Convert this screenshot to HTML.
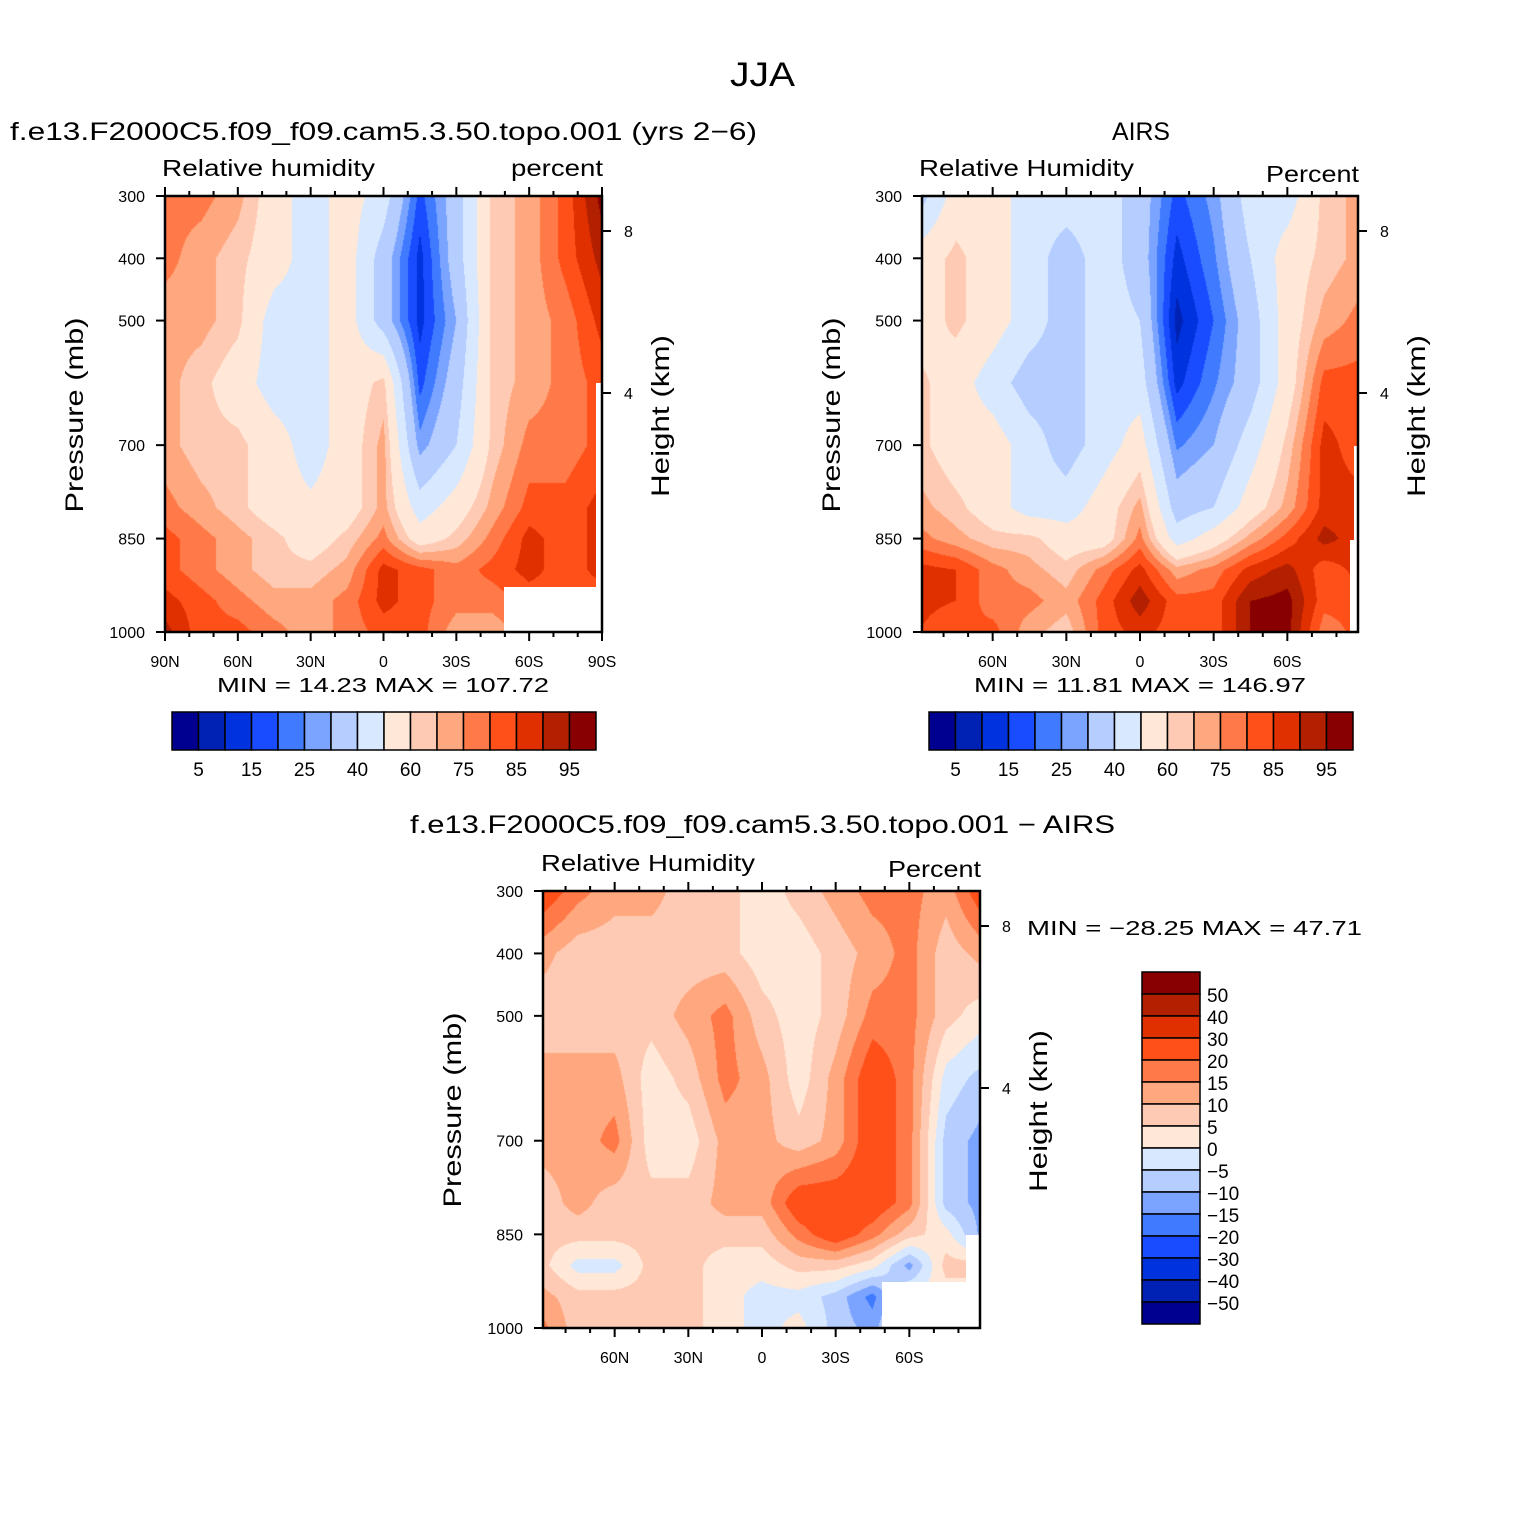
<!DOCTYPE html>
<html><head><meta charset="utf-8">
<style>
body{margin:0;background:#fff;}
#root{position:relative;width:1524px;height:1524px;background:#fff;overflow:hidden;font-family:"Liberation Sans",sans-serif;color:#000;}
svg text{font-family:"Liberation Sans",sans-serif;}
canvas{position:absolute;}
</style></head>
<body>
<div id="root">
<canvas id="c1"></canvas>
<canvas id="c2"></canvas>
<canvas id="c3"></canvas>
<svg id="ov" width="1524" height="1524" style="position:absolute;left:0;top:0"></svg>
</div>
<script>
// ---- data ----
const lats = [90,75,60,45,30,15,0,-15,-30,-45,-60,-75,-90];
const pressures = [300,400,500,600,700,800,850,900,950,1000];
const rhLevels = [5,10,15,20,25,30,40,50,60,65,70,75,80,85,90];
const diffLevels = [-50,-40,-30,-20,-15,-10,-5,0,5,10,15,20,30,40,50];
const rhLabels = ["5","15","25","40","60","75","85","95"];
const diffLabels = ["50","40","30","20","15","10","5","0","\u22125","\u221210","\u221215","\u221220","\u221230","\u221240","\u221250"];
const palette = ["#000090","#0022b4","#0033dd","#1a4cff","#3f7aff","#7aa4ff","#b5cdff","#d8e9ff","#ffe8d8","#ffcab3","#ffa77e","#ff7a48","#ff501a","#e03000","#b32000","#880000"];
const modelRH = [
[72,72,67,55,45,55,45,18,35,62,67,77,92],
[72,67,62,55,45,55,35,13,35,62,67,77,87],
[67,67,62,45,45,55,35,13,30,62,67,72,82],
[67,62,55,45,45,55,62,18,35,62,67,72,77],
[67,62,62,55,45,55,67,27,40,62,72,72,77],
[72,67,62,55,52,55,67,45,55,67,77,77,82],
[77,72,67,62,55,62,72,55,62,72,82,77,82],
[77,72,67,62,62,67,82,77,72,77,82,77,82],
[82,77,72,67,67,72,82,77,72,72,77,77,77],
[87,77,77,72,67,72,77,77,67,67,72,72,72]];
const airsRH = [
[35,55,55,45,45,45,35,18,27,45,45,62,67],
[55,62,55,45,35,45,35,13,24,40,55,62,67],
[55,62,55,45,35,45,40,8,20,35,55,67,72],
[62,55,45,35,35,45,45,13,24,35,55,77,77],
[62,55,55,45,35,45,55,24,30,45,62,82,77],
[67,62,55,45,45,55,67,35,40,55,67,82,82],
[72,67,62,62,55,55,72,45,55,67,77,87,82],
[82,80,72,67,62,72,82,67,72,82,87,77,82],
[82,80,72,72,67,77,88,77,77,90,92,77,77],
[80,75,77,67,62,77,82,77,77,90,92,72,77]];
const diffRH = [
[25,17,12,12,7,7,2,7,12,17,17,12,25],
[12,7,7,7,7,7,2,2,7,12,17,7,12],
[7,7,7,7,12,17,7,2,7,17,17,7,2],
[12,12,12,2,7,17,12,2,12,25,17,-2,-7],
[12,12,17,2,2,12,12,7,12,25,17,-7,-12],
[7,12,7,7,7,12,12,25,25,25,17,-7,-12],
[7,7,7,7,7,7,7,17,25,17,7,2,-12],
[7,-2,-2,7,7,2,2,7,7,2,-12,7,7],
[12,7,7,7,7,2,-2,-2,-7,-17,2,2,2],
[17,7,7,7,7,2,-2,2,-7,-12,2,2,2]];
const statsText = ["MIN  =    14.23    MAX  =  107.72","MIN  =    11.81    MAX  =  146.97","MIN  =  \u221228.25    MAX  =    47.71"];

// ---- render ----
const NS="http://www.w3.org/2000/svg";
const ov=document.getElementById('ov');
function el(tag,attrs,txt){const e=document.createElementNS(NS,tag);for(const k in attrs)e.setAttribute(k,attrs[k]);if(txt!==undefined)e.textContent=txt;ov.appendChild(e);return e;}
function colorIdx(v,levels){let i=0;while(i<levels.length&&v>=levels[i])i++;return i;}
function hex(c){return [parseInt(c.slice(1,3),16),parseInt(c.slice(3,5),16),parseInt(c.slice(5,7),16)];}
const palRGB=palette.map(hex);

function drawPanel(id,P,grid,levels){
  const cv=document.getElementById(id);
  const W=P.x1-P.x0,H=P.y1-P.y0;
  cv.width=W;cv.height=H;cv.style.left=P.x0+'px';cv.style.top=P.y0+'px';
  const ctx=cv.getContext('2d');const img=ctx.createImageData(W,H);
  const xOf=lat=>P.lx0+(90-lat)/180*(P.lx1-P.lx0);
  const yOfP=p=>P.y0+(p-300)/700*H;
  for(let py=0;py<H;py++){
    const p=300+(py+0.5)/H*700;
    let r=0;while(r<pressures.length-2&&p>pressures[r+1])r++;
    let ty=(p-pressures[r])/(pressures[r+1]-pressures[r]);ty=Math.max(0,Math.min(1,ty));
    for(let px=0;px<W;px++){
      const lat=90-((P.x0+px+0.5)-P.lx0)/(P.lx1-P.lx0)*180;
      let c=0;while(c<lats.length-2&&lat<lats[c+1])c++;
      let tx=(lats[c]-lat)/(lats[c]-lats[c+1]);tx=Math.max(0,Math.min(1,tx));
      const v=(grid[r][c]*(1-tx)+grid[r][c+1]*tx)*(1-ty)+(grid[r+1][c]*(1-tx)+grid[r+1][c+1]*tx)*ty;
      const col=palRGB[colorIdx(v,levels)];const o=(py*W+px)*4;
      img.data[o]=col[0];img.data[o+1]=col[1];img.data[o+2]=col[2];img.data[o+3]=255;
    }
  }
  ctx.putImageData(img,0,0);
  if(P.miss) for(const m of P.miss){const r=el('rect',{x:m[0],y:m[1],width:m[2],height:m[3],fill:'#fff'});}
  const f=el('rect',{x:P.x0,y:P.y0,width:W,height:H,fill:'none',stroke:'#000','stroke-width':2.5});
  
  [300,400,500,700,850,1000].forEach(p=>{
    const y=yOfP(p);
    el('line',{x1:P.x0-9,x2:P.x0,y1:y,y2:y,stroke:'#000','stroke-width':2});
    const t=el('text',{x:P.x0-20,y:y+6,'text-anchor':'end','font-size':16},String(p));
    
  });
  for(let lat=90;lat>=-90;lat-=10){
    const x=xOf(lat);if(x<P.x0-1||x>P.x1+1)continue;
    const major=lat%30===0;
    el('line',{x1:x,x2:x,y1:P.y1,y2:P.y1+(major?9:5),stroke:'#000','stroke-width':2});
    el('line',{x1:x,x2:x,y1:P.y0,y2:P.y0-(major?9:5),stroke:'#000','stroke-width':2});
    if(major&&(P.full||Math.abs(lat)<90)){
      const s=lat===0?'0':(Math.abs(lat)+(lat>0?'N':'S'));
      const t=el('text',{x:x,y:P.y1+35,'text-anchor':'middle','font-size':16},s);
      
    }
  }
  [[8,P.y0+35],[4,P.y0+197]].forEach(h=>{
    el('line',{x1:P.x1,x2:P.x1+9,y1:h[1],y2:h[1],stroke:'#000','stroke-width':2});
    const t=el('text',{x:P.x1+22,y:h[1]+6,'text-anchor':'start','font-size':16},String(h[0]));
    
  });
  const a=el('text',{x:0,y:0,transform:`translate(${P.x0-82},${P.y0+219}) rotate(-90)`,'text-anchor':'middle','font-size':25,textLength:195,lengthAdjust:'spacingAndGlyphs'},'Pressure  (mb)');
  
  const b=el('text',{x:0,y:0,transform:`translate(${P.x1+67},${P.y0+220}) rotate(-90)`,'text-anchor':'middle','font-size':25,textLength:162,lengthAdjust:'spacingAndGlyphs'},'Height  (km)');
  
}

function hBar(x0,y0){
  const bw=26.5;
  palette.forEach((c,i)=>{const r=el('rect',{x:x0+i*bw,y:y0,width:bw,height:38,fill:c,stroke:'#000','stroke-width':1.5});
    });
  rhLabels.forEach((s,i)=>{const t=el('text',{x:x0+(2*i+1)*bw,y:y0+64,'text-anchor':'middle','font-size':19},s);
    });
}

const P1={x0:165,x1:602,y0:196,y1:632,lx0:165,lx1:602,full:true,miss:[[504,587,98,45],[596,383,6,249]]};
const P2={x0:922,x1:1358,y0:196,y1:632,lx0:919,lx1:1361,full:false,miss:[[1350,540,8,92],[1354,446,4,94]]};
const P3={x0:543,x1:980,y0:891,y1:1328,lx0:541,lx1:983,full:false,miss:[[882,1282,97,46],[966,1235,14,47]]};
drawPanel('c1',P1,modelRH,rhLevels);
drawPanel('c2',P2,airsRH,rhLevels);
drawPanel('c3',P3,diffRH,diffLevels);
hBar(172,712);hBar(929,712);

const vb={x:1142,y:972,h:22};
for(let i=0;i<16;i++){const r=el('rect',{x:vb.x,y:vb.y+i*vb.h,width:58,height:vb.h,fill:palette[15-i],stroke:'#000','stroke-width':1.5});
  }
diffLabels.forEach((s,i)=>{const t=el('text',{x:1207,y:vb.y+(i+1)*vb.h+8,'font-size':19},s);
  });

function txt(name,x,y,size,s,anchor,len){const a={x:x,y:y,'font-size':size,'text-anchor':anchor||'start'};
  if(len){a.textLength=len;a.lengthAdjust='spacingAndGlyphs';}
  const t=el('text',a,s);
  }
txt('main-title',730,86,34,'JJA','start',65);
txt('model-panel-title',10,140,25,'f.e13.F2000C5.f09_f09.cam5.3.50.topo.001  (yrs  2\u22126)','start',747);
txt('airs-panel-title',1112,140,25,'AIRS','start',58);
txt('diff-panel-title',410,833,25,'f.e13.F2000C5.f09_f09.cam5.3.50.topo.001  \u2212  AIRS','start',705);
txt('model-variable-label',162,176,23,'Relative  humidity','start',213);
txt('model-units-label',511,176,23,'percent','start',92);
txt('airs-variable-label',919,176,23,'Relative  Humidity','start',215);
txt('airs-units-label',1266,182,23,'Percent','start',93);
txt('diff-variable-label',541,871,23,'Relative  Humidity','start',214);
txt('diff-units-label',888,877,23,'Percent','start',93);
txt('model-stats',217,692,20,statsText[0],'start',332);
txt('airs-stats',974,692,20,statsText[1],'start',332);
txt('diff-stats',1027,935,20,statsText[2],'start',335);
</script>
</body></html>
